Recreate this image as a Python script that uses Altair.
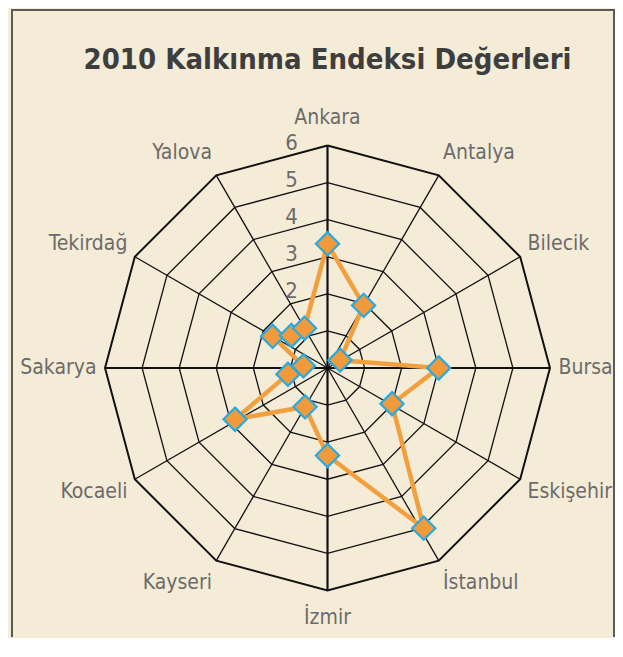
import math
import altair as alt
import pandas as pd

# ---------------- data ----------------
title_text = ["2010 Kalkınma Endeksi Değerleri"]
categories = ["Ankara", "Antalya", "Bilecik", "Bursa", "Eskişehir", "İstanbul",
              "İzmir", "Kayseri", "Kocaeli", "Sakarya", "Tekirdağ", "Yalova"]
category_angles = [0, 30, 60, 90, 120, 150, 180, 210, 240, 270, 300, 330]
levels = [1, 2, 3, 4, 5, 6]
tick_levels = [2, 3, 4, 5, 6]
tick_labels = ["2", "3", "4", "5", "6"]

# series markers as drawn: angle (degrees clockwise from top) and value
point_angles = [0, 30, 58, 90, 119, 149, 180, 210, 241, 261, 275, 300, 312, 330]
point_values = [3.35, 1.95, 0.40, 3.00, 1.99, 5.04, 2.36, 1.21, 2.85, 1.08, 0.65, 1.71, 1.31, 1.24]

# ---------------- layout constants ----------------
U = 37.08            # px per unit
W, H = 603, 628
CX, CY = 315.5, 359  # centre inside the view (px)
xdom = [-CX / U, (W - CX) / U]
ydom = [-(H - CY) / U, CY / U]

xs = alt.Scale(domain=xdom, nice=False, zero=False)
ys = alt.Scale(domain=ydom, nice=False, zero=False)
FONT = "Liberation Sans Narrow, DejaVu Sans Condensed, sans-serif"
LABEL_COLOR = "#6b6b6b"

# ---------------- tables ----------------
ring_rows = []
for lv in levels:
    for k in range(len(categories) + 1):
        ring_rows.append({"level": lv, "k": k, "angle": category_angles[k % len(categories)]})
rings = pd.DataFrame(ring_rows)

spokes = pd.DataFrame({"angle": category_angles, "r": [levels[-1]] * len(categories)})

ticks = pd.DataFrame({"level": tick_levels, "label": tick_labels})

series = pd.DataFrame({"angle": point_angles + [point_angles[0]],
                       "value": point_values + [point_values[0]],
                       "k": list(range(len(point_angles) + 1))})

labels = pd.DataFrame({"name": categories, "angle": category_angles})

rad = "datum.angle * PI / 180"

ring_layer = alt.Chart(rings).transform_calculate(
    x=f"datum.level * sin({rad})", y=f"datum.level * cos({rad})"
).mark_line(color="#111111").encode(
    x=alt.X("x:Q", scale=xs, axis=None),
    y=alt.Y("y:Q", scale=ys, axis=None),
    detail="level:N",
    order="k:Q",
    strokeWidth=alt.condition("datum.level == 6", alt.value(2.0), alt.value(1.3)),
)

spoke_layer = alt.Chart(spokes).transform_calculate(
    x0="0", y0="0", x1=f"datum.r * sin({rad})", y1=f"datum.r * cos({rad})"
).mark_rule(color="#111111").encode(
    x=alt.X("x0:Q", scale=xs, axis=None),
    y=alt.Y("y0:Q", scale=ys, axis=None),
    x2="x1:Q", y2="y1:Q",
    strokeWidth=alt.condition("datum.angle % 90 == 0", alt.value(2.2), alt.value(1.3)),
)

tick_layer = alt.Chart(ticks).transform_calculate(
    x="-0.8", y="datum.level + 0.07"
).mark_text(align="right", baseline="middle", font=FONT, fontSize=22, color=LABEL_COLOR).encode(
    x=alt.X("x:Q", scale=xs, axis=None),
    y=alt.Y("y:Q", scale=ys, axis=None),
    text="label:N",
)

line_layer = alt.Chart(series).transform_calculate(
    x=f"datum.value * sin({rad})", y=f"datum.value * cos({rad})"
).mark_line(color="#F2A03E", strokeWidth=4.5).encode(
    x=alt.X("x:Q", scale=xs, axis=None),
    y=alt.Y("y:Q", scale=ys, axis=None),
    order="k:Q",
)

point_layer = alt.Chart(series).transform_filter(f"datum.k < {len(point_angles)}").transform_calculate(
    x=f"datum.value * sin({rad})", y=f"datum.value * cos({rad})"
).mark_point(shape="diamond", filled=True, size=540, fill="#F09A3B", stroke="#29AAE1",
             strokeWidth=2.2, opacity=1).encode(
    x=alt.X("x:Q", scale=xs, axis=None),
    y=alt.Y("y:Q", scale=ys, axis=None),
)


def label_layer(filt, align, rx, ry):
    return alt.Chart(labels).transform_filter(filt).transform_calculate(
        x=f"{rx} * sin({rad})", y=f"{ry} * cos({rad})"
    ).mark_text(align=align, baseline="middle", font=FONT, fontSize=21, color=LABEL_COLOR).encode(
        x=alt.X("x:Q", scale=xs, axis=None),
        y=alt.Y("y:Q", scale=ys, axis=None),
        text="name:N",
    )


lab_left = label_layer("datum.angle > 0 && datum.angle < 180", "left", 6.23, 6.68)
lab_right = label_layer("datum.angle > 180", "right", 6.23, 6.68)
lab_center = label_layer("datum.angle == 0 || datum.angle == 180", "center", 6.23, 6.75)

title_layer = alt.Chart(pd.DataFrame({"t": title_text})).mark_text(
    align="center", baseline="alphabetic", font=FONT, fontSize=29, fontWeight="bold", color="#3e3e3e"
).encode(x=alt.value(CX), y=alt.value(60), text="t:N")

frame_df = pd.DataFrame({"a": [1]})
frame_left = alt.Chart(frame_df).mark_rule(color="#5a5a5a", strokeWidth=2).encode(
    x=alt.value(0), y=alt.value(0), y2=alt.value(H))
frame_right = alt.Chart(frame_df).mark_rule(color="#5a5a5a", strokeWidth=2).encode(
    x=alt.value(W - 1), y=alt.value(0), y2=alt.value(H))
frame_top = alt.Chart(frame_df).mark_rule(color="#5a5a5a", strokeWidth=2).encode(
    x=alt.value(0), x2=alt.value(W - 1), y=alt.value(1))

chart = alt.layer(
    ring_layer, spoke_layer, tick_layer, line_layer, point_layer,
    lab_left, lab_right, lab_center, title_layer,
    frame_left, frame_right, frame_top,
).properties(
    width=W, height=H,
    padding={"left": 3, "top": 0, "right": 0, "bottom": 0},
    background="#f5ecd8",
).configure_view(stroke=None)

chart.save("out.html", embed_options={"renderer": "svg", "actions": False})
